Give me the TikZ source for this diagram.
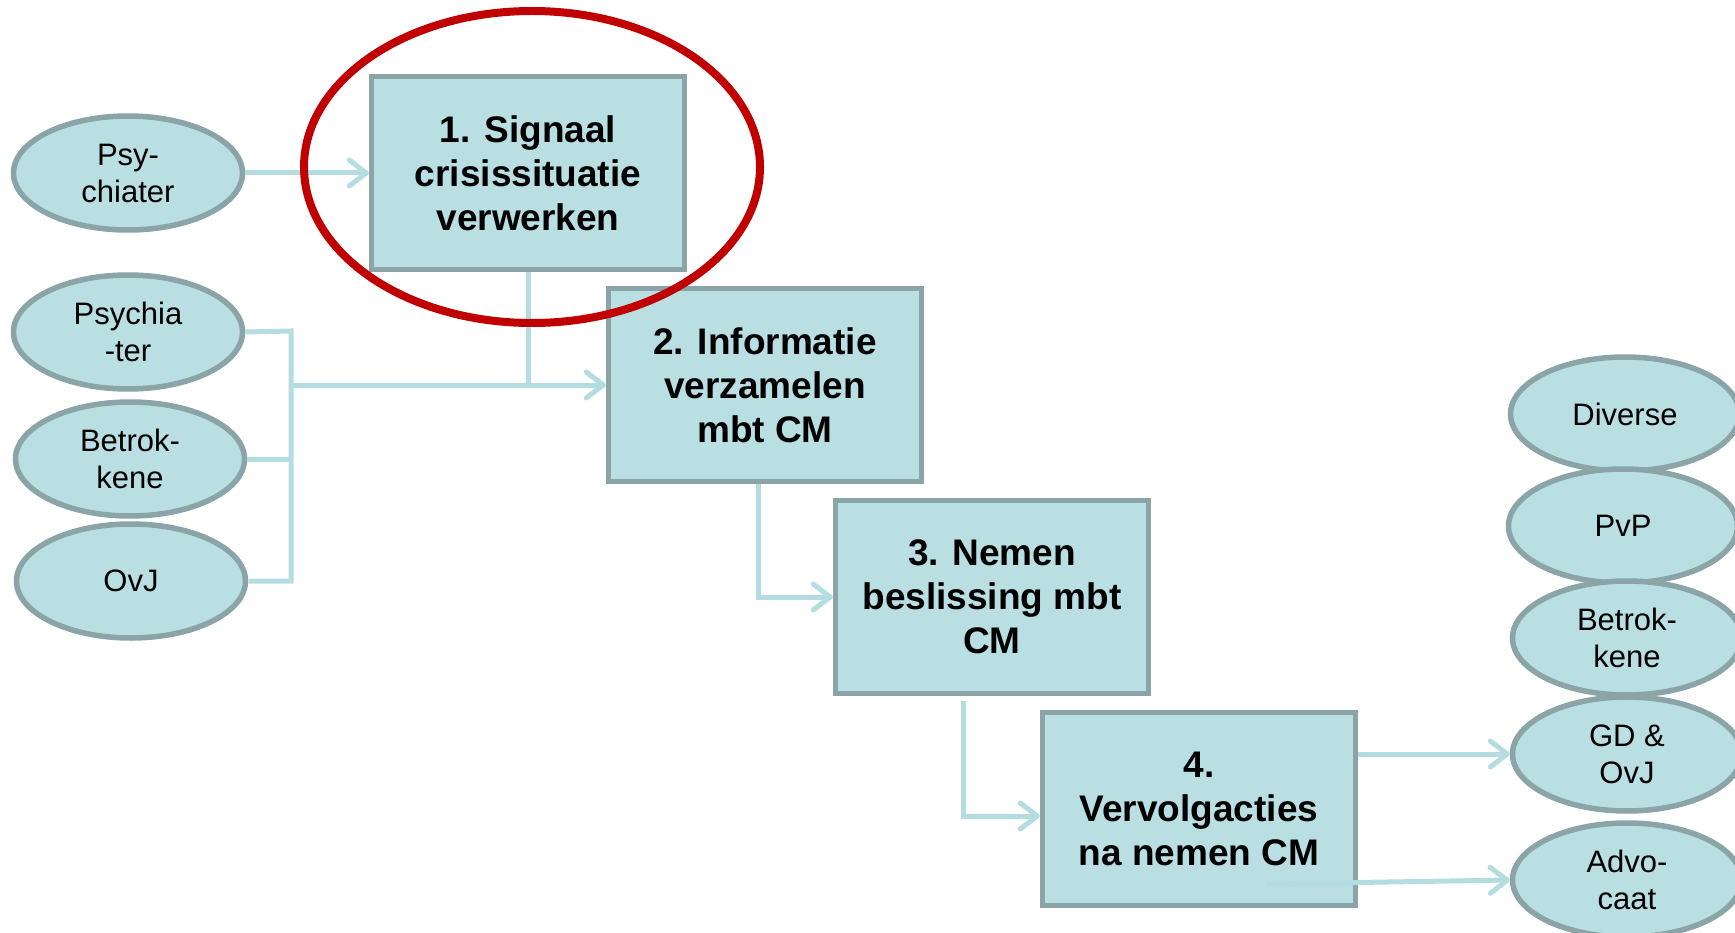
\documentclass[tikz,border=0pt]{standalone}
\usepackage{fontspec}
\setmainfont{Liberation Sans}
\usetikzlibrary{shapes.geometric,arrows.meta,calc}
\definecolor{fillc}{RGB}{185,223,227}
\definecolor{edgec}{RGB}{138,164,168}
\definecolor{connc}{RGB}{180,221,226}
\definecolor{redc}{RGB}{192,0,0}
\tikzset{
  stepbox/.style={rectangle,draw=edgec,fill=fillc,line width=5.5pt,minimum width=313pt,minimum height=193pt,inner sep=0pt,align=center,font=\fontsize{37}{44}\selectfont\bfseries},
  actor/.style={ellipse,draw=edgec,fill=fillc,line width=5.5pt,minimum width=229pt,minimum height=114pt,inner sep=0pt,align=center,font=\fontsize{31}{37}\selectfont},
  conn/.style={draw=connc,line width=5pt},
  arr/.style={-{Straight Barb[length=17pt,width=26pt,line width=5pt,round]}},
}
\begin{document}
\begin{tikzpicture}[x=1pt,y=-1pt]
\useasboundingbox (0,0) rectangle (1735,933);
% boxes
\node[stepbox] (b1) at (528,173) {1. Signaal\\crisissituatie\\verwerken};
\node[stepbox] (b2) at (765,385) {2. Informatie\\verzamelen\\mbt CM};
\node[stepbox] (b3) at (992,597) {3. Nemen\\beslissing mbt\\CM};
\node[stepbox] (b4) at (1199,809) {4.\\Vervolgacties\\na nemen CM};
% left actors
\node[actor] (l1) at (128,173) {Psy-\\chiater};
\node[actor] (l2) at (128,332) {Psychia\\-ter};
\node[actor] (l3) at (130,459) {Betrok-\\kene};
\node[actor] (l4) at (131,581) {OvJ};
% right actors
\node[actor] (r1) at (1625,414) {Diverse};
\node[actor] (r2) at (1623,526) {PvP};
\node[actor] (r3) at (1627,638) {Betrok-\\kene};
\node[actor] (r4) at (1627,754) {GD \&\\OvJ};
\node[actor] (r5) at (1627,880) {Advo-\\caat};
% connectors
\draw[conn,arr] (l1.east) -- (b1.west);
\coordinate (bt) at (291,331);
\coordinate (bb) at (291,581);
\draw[conn] (l2.east) -- (bt) -- (bb) -- (l4.east);
\draw[conn] (l3.east) -- (l3.east -| bt);
\draw[conn] (b1.south) -- (b1.south |- b2.west);
\draw[conn,arr] (bt |- b2.west) -- (b2.west);
\draw[conn,arr] ([xshift=-7pt]b2.south) |- (b3.west);
\coordinate (c3) at (963,701);
\draw[conn,arr] (c3) |- ([yshift=-7pt]b4.west);
\draw[conn,arr] ([yshift=55pt]b4.east) -- (r4.west);
\coordinate (c4) at (1267,884);
\draw[conn,arr] (c4) -- (r5.west);
% highlight
\draw[redc,line width=8pt] (532,167) ellipse [x radius=228pt, y radius=156pt];
\end{tikzpicture}
\end{document}
